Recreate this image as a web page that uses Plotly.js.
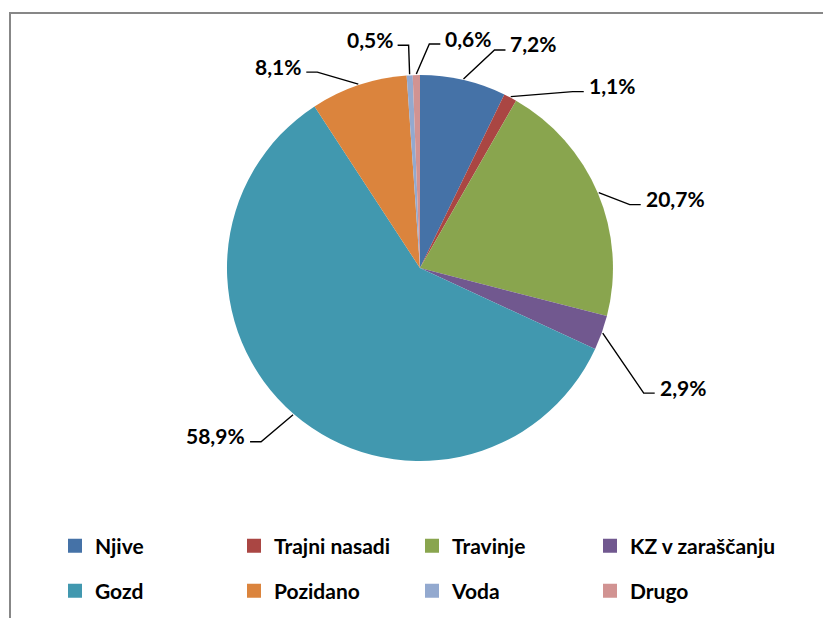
<!DOCTYPE html>
<html>
<head>
<meta charset="utf-8">
<script src="https://cdn.plot.ly/plotly-3.0.1.min.js"></script>
<style>
  html, body { margin: 0; padding: 0; background: #ffffff; overflow: hidden; }
  #wrap { position: relative; width: 823px; height: 618px; }
  #chart { position: absolute; left: 0; top: 0; width: 823px; height: 618px; }
  #frame { position: absolute; left: 9px; top: 12px; width: 900px; height: 700px;
           border-top: 2px solid #878787; border-left: 2px solid #878787; pointer-events: none; }
</style>
</head>
<body>
<div id="wrap"><div id="chart"></div><div id="frame"></div></div>
<script>
// ---- data ----
const categories = ["Njive", "Trajni nasadi", "Travinje", "KZ v zaraščanju", "Gozd", "Pozidano", "Voda", "Drugo"];
const shares = [7.2, 1.1, 20.7, 2.9, 58.9, 8.1, 0.5, 0.6];
const colors = ["#4572A7", "#AA4643", "#89A54E", "#71588F", "#4198AF", "#DB843D", "#93A9CF", "#D19392"];

// ---- layout / style ----
const W = 823, H = 618;
const FONT = "Lato, 'Open Sans', sans-serif";
const pieDomain = { x: [0.2758, 0.7448], y: [0.254, 0.8786] };
// leader-line elbow nudges (pixels, relative to slice edge point), layout only
const leaderElbow = [[31, -29], [62, -5], [31, 12], [41, 60], [-32, 27], [-41, -12], [-1, -29], [13, -30]];
const leaderTail = 11;
// legend grid (pixel centres of the swatches), layout only
const legendCols = [79, 258, 436, 614];
const legendRows = [546, 591];

const traces = [{
  type: "pie",
  labels: categories,
  values: shares,
  sort: false,
  direction: "clockwise",
  rotation: 0,
  marker: { colors: colors, line: { width: 0 } },
  textinfo: "none",
  hoverinfo: "label+percent",
  showlegend: false,
  domain: pieDomain
}];

const legendIds = categories.map(function (c, i) { return i === 0 ? "legend" : "legend" + (i + 1); });

categories.forEach(function (c, i) {
  traces.push({
    type: "scatter",
    mode: "markers",
    x: [null], y: [null],
    name: c,
    marker: { symbol: "square", size: 14, color: colors[i] },
    legend: legendIds[i],
    showlegend: true,
    hoverinfo: "skip"
  });
});

// pie geometry derived from the domain
const dw = (pieDomain.x[1] - pieDomain.x[0]) * W;
const dh = (pieDomain.y[1] - pieDomain.y[0]) * H;
const R = Math.min(dw, dh) / 2;
const cx = (pieDomain.x[0] + pieDomain.x[1]) / 2 * W;
const cy = (1 - (pieDomain.y[0] + pieDomain.y[1]) / 2) * H;
const total = shares.reduce(function (a, b) { return a + b; }, 0);
const px = function (x) { return x / W; };
const py = function (y) { return 1 - y / H; };

const shapes = [];
const annotations = [];
let cum = 0;
shares.forEach(function (v, i) {
  const mid = (cum + v / 2) / total * 2 * Math.PI;
  cum += v;
  const ex = cx + (R + 1) * Math.sin(mid);
  const ey = cy - (R + 1) * Math.cos(mid);
  const bx = ex + leaderElbow[i][0];
  const by = ey + leaderElbow[i][1];
  const right = leaderElbow[i][0] >= 0;
  const tx = bx + (right ? leaderTail : -leaderTail);
  shapes.push({
    type: "path", xref: "paper", yref: "paper",
    path: "M" + px(ex) + "," + py(ey) + " L" + px(bx) + "," + py(by) + " L" + px(tx) + "," + py(by),
    line: { color: "#000000", width: 1.4 }
  });
  annotations.push({
    xref: "paper", yref: "paper",
    x: px(tx + (right ? 3 : -3)), y: py(by - 6),
    xanchor: right ? "left" : "right", yanchor: "middle",
    showarrow: false,
    text: v.toFixed(1).replace(".", ",") + "%",
    font: { family: FONT, size: 21, color: "#000000", weight: "bold" }
  });
});

const layout = {
  width: W,
  height: H,
  margin: { l: 0, r: 0, t: 0, b: 0 },
  paper_bgcolor: "#ffffff",
  plot_bgcolor: "#ffffff",
  separators: ",.",
  showlegend: true,
  xaxis: { visible: false },
  yaxis: { visible: false },
  shapes: shapes,
  annotations: annotations
};

legendIds.forEach(function (id, i) {
  layout[id] = {
    orientation: "h",
    xanchor: "left",
    yanchor: "middle",
    x: px(legendCols[i % 4] - 24),
    y: py(legendRows[Math.floor(i / 4)]),
    itemwidth: 30,
    bgcolor: "rgba(0,0,0,0)",
    font: { family: FONT, size: 21, color: "#000000", weight: "bold" },
    itemclick: false,
    itemdoubleclick: false
  };
});

Plotly.newPlot("chart", traces, layout, { displayModeBar: false, staticPlot: true });
</script>
</body>
</html>
